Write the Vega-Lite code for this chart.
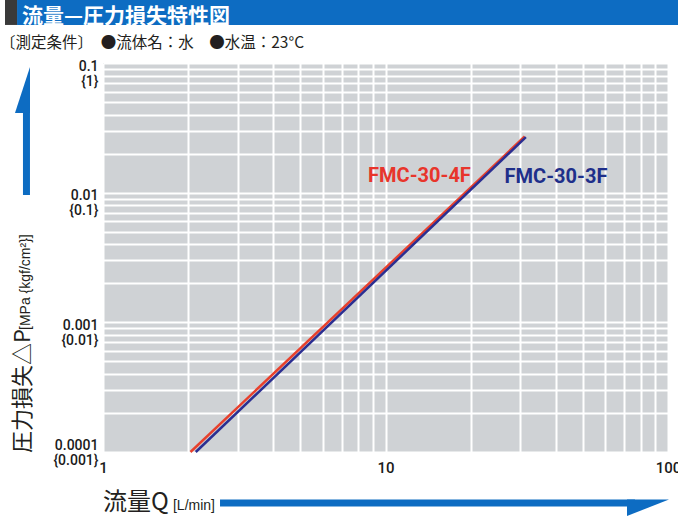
{
  "$schema": "https://vega.github.io/schema/vega-lite/v6.json",
  "width": 565,
  "height": 389,
  "autosize": {"type": "none"},
  "padding": {"left": 103, "top": 63, "right": 10, "bottom": 65},
  "background": "#ffffff",
  "config": {"view": {"fill": "#cfd2d5", "stroke": null}},
  "layer": [
    {
      "data": {"values": [
        {"series": "FMC-30-4F", "q": 2.04, "dp": 0.0001},
        {"series": "FMC-30-4F", "q": 31.1, "dp": 0.0271},
        {"series": "FMC-30-3F", "q": 2.13, "dp": 0.0001},
        {"series": "FMC-30-3F", "q": 31.4, "dp": 0.0268}
      ]},
      "mark": {"type": "line", "strokeWidth": 2.5},
      "encoding": {
        "x": {
          "field": "q", "type": "quantitative",
          "scale": {"type": "log", "domain": [1, 100], "nice": false},
          "axis": {
            "values": [1,2,3,4,5,6,7,8,9,10,20,30,40,50,60,70,80,90,100],
            "labelExpr": "datum.value == 1 ? '1' : datum.value == 10 ? '10' : datum.value == 100 ? '100' : ''",
            "grid": true, "gridColor": "#ffffff", "gridWidth": 2, "gridOpacity": 1,
            "ticks": false, "domain": false,
            "labelFont": "Roboto", "labelFontWeight": 500, "labelFontSize": 15, "labelColor": "#1a1a1a",
            "labelPadding": 8, "labelOverlap": false, "labelFlush": false, "labelBound": false,
            "title": null
          }
        },
        "y": {
          "field": "dp", "type": "quantitative",
          "scale": {"type": "log", "domain": [0.0001, 0.1], "nice": false},
          "axis": {
            "values": [0.0001,0.0002,0.0003,0.0004,0.0005,0.0006,0.0007,0.0008,0.0009,0.001,0.002,0.003,0.004,0.005,0.006,0.007,0.008,0.009,0.01,0.02,0.03,0.04,0.05,0.06,0.07,0.08,0.09,0.1],
            "labelExpr": "datum.value == 0.1 ? ['0.1','{1}'] : datum.value == 0.01 ? ['0.01','{0.1}'] : datum.value == 0.001 ? ['0.001','{0.01}'] : datum.value == 0.0001 ? ['0.0001','{0.001}'] : ''",
            "grid": true, "gridColor": "#ffffff", "gridWidth": 2, "gridOpacity": 1,
            "ticks": false, "domain": false,
            "labelFont": "Roboto", "labelFontWeight": 500, "labelFontSize": 14, "labelColor": "#1a1a1a",
            "labelLineHeight": 15, "labelPadding": 5, "labelAlign": "right",
            "labelBaseline": {"condition": {"test": "datum.value < 0.0002", "value": "bottom"}, "value": "top"},
            "labelOffset": {"condition": {"test": "datum.value < 0.0002", "value": 0}, "value": -4},
            "labelOverlap": false, "labelFlush": false, "labelBound": false,
            "title": null
          }
        },
        "color": {
          "field": "series", "type": "nominal",
          "scale": {"domain": ["FMC-30-3F", "FMC-30-4F"], "range": ["#2b2e91", "#e8402c"]},
          "legend": null
        }
      }
    },
    {
      "data": {"values": [{"part": "banner"}]},
      "mark": {"type": "rect", "color": "#0d6cc2"},
      "encoding": {
        "x": {"datum": 0.4963, "type": "quantitative"},
        "x2": {"datum": 110},
        "y": {"datum": 0.33, "type": "quantitative"},
        "y2": {"datum": 0.1965}
      }
    },
    {
      "data": {"values": [{"part": "banner-edge"}]},
      "mark": {"type": "rect", "color": "#3a3a3a"},
      "encoding": {
        "x": {"datum": 0.4498, "type": "quantitative"},
        "x2": {"datum": 0.4963},
        "y": {"datum": 0.33, "type": "quantitative"},
        "y2": {"datum": 0.1965}
      }
    },
    {
      "data": {"values": [{"t": "流量—圧力損失特性図"}]},
      "mark": {"type": "text", "align": "left", "baseline": "alphabetic", "font": "Noto Sans CJK JP", "fontWeight": "bold", "fontSize": 21, "color": "#ffffff"},
      "encoding": {
        "x": {"datum": 0.5167, "type": "quantitative"},
        "y": {"datum": 0.2020, "type": "quantitative"},
        "text": {"field": "t"}
      }
    },
    {
      "data": {"values": [{"t": "〔測定条件〕　●流体名：水　●水温：23°C"}]},
      "mark": {"type": "text", "align": "left", "baseline": "alphabetic", "font": "Noto Sans CJK JP", "fontSize": 15.5, "color": "#231f20"},
      "encoding": {
        "x": {"datum": 0.4319, "type": "quantitative"},
        "y": {"datum": 0.1298, "type": "quantitative"},
        "text": {"field": "t"}
      }
    },
    {
      "data": {"values": [{"t": "圧力損失△P"}]},
      "mark": {"type": "text", "align": "left", "baseline": "alphabetic", "angle": 270, "font": "Noto Sans CJK JP", "fontSize": 22, "color": "#231f20"},
      "encoding": {
        "x": {"datum": 0.5537, "type": "quantitative"},
        "y": {"datum": 0.00009826, "type": "quantitative"},
        "text": {"field": "t"}
      }
    },
    {
      "data": {"values": [{"t": "[MPa {kgf/cm²}]"}]},
      "mark": {"type": "text", "align": "left", "baseline": "alphabetic", "angle": 270, "font": "Liberation Sans", "fontSize": 14, "color": "#231f20"},
      "encoding": {
        "x": {"datum": 0.5537, "type": "quantitative"},
        "y": {"datum": 0.000873, "type": "quantitative"},
        "text": {"field": "t"}
      }
    },
    {
      "data": {"values": [{"part": "y-arrow"}]},
      "mark": {"type": "rule", "strokeWidth": 7, "color": "#0d6cc2"},
      "encoding": {
        "x": {"datum": 0.5359, "type": "quantitative"},
        "y": {"datum": 0.009595, "type": "quantitative"},
        "y2": {"datum": 0.04744}
      }
    },
    {
      "data": {"values": [{"part": "y-arrowhead"}]},
      "mark": {"type": "point", "shape": "M 0.174 -1 L 0.174 1 L -0.478 1 Z", "size": 2116, "filled": true, "opacity": 1, "strokeWidth": 0, "color": "#0d6cc2"},
      "encoding": {
        "x": {"datum": 0.5338, "type": "quantitative"},
        "y": {"datum": 0.06189, "type": "quantitative"}
      }
    },
    {
      "data": {"values": [{"t": "流量Q"}]},
      "mark": {"type": "text", "align": "left", "baseline": "alphabetic", "font": "Noto Sans CJK JP", "fontSize": 24, "color": "#231f20"},
      "encoding": {
        "x": {"datum": 1, "type": "quantitative"},
        "y": {"datum": 0.0000357, "type": "quantitative"},
        "text": {"field": "t"}
      }
    },
    {
      "data": {"values": [{"t": "[L/min]"}]},
      "mark": {"type": "text", "align": "left", "baseline": "alphabetic", "font": "Liberation Sans", "fontSize": 14, "color": "#231f20"},
      "encoding": {
        "x": {"datum": 1.769, "type": "quantitative"},
        "y": {"datum": 0.0000357, "type": "quantitative"},
        "text": {"field": "t"}
      }
    },
    {
      "data": {"values": [{"part": "x-arrow"}]},
      "mark": {"type": "rule", "strokeWidth": 7, "color": "#0d6cc2"},
      "encoding": {
        "x": {"datum": 2.5955, "type": "quantitative"},
        "x2": {"datum": 76.41},
        "y": {"datum": 0.00004044, "type": "quantitative"}
      }
    },
    {
      "data": {"values": [{"part": "x-arrowhead"}]},
      "mark": {"type": "point", "shape": "M -0.909 -0.386 L 1 -0.386 L -0.909 0.364 Z", "size": 1936, "filled": true, "opacity": 1, "strokeWidth": 0, "color": "#0d6cc2"},
      "encoding": {
        "x": {"datum": 84.27, "type": "quantitative"},
        "y": {"datum": 0.000037, "type": "quantitative"}
      }
    },
    {
      "data": {"values": [{"series": "FMC-30-4F"}]},
      "mark": {"type": "text", "align": "center", "baseline": "alphabetic", "font": "Roboto", "fontWeight": "bold", "fontSize": 20, "color": "#e8352b"},
      "encoding": {
        "x": {"datum": 13.19, "type": "quantitative"},
        "y": {"datum": 0.01209, "type": "quantitative"},
        "text": {"field": "series"}
      }
    },
    {
      "data": {"values": [{"series": "FMC-30-3F"}]},
      "mark": {"type": "text", "align": "center", "baseline": "alphabetic", "font": "Roboto", "fontWeight": "bold", "fontSize": 20, "color": "#1e2f8a"},
      "encoding": {
        "x": {"datum": 40.13, "type": "quantitative"},
        "y": {"datum": 0.01188, "type": "quantitative"},
        "text": {"field": "series"}
      }
    }
  ]
}
